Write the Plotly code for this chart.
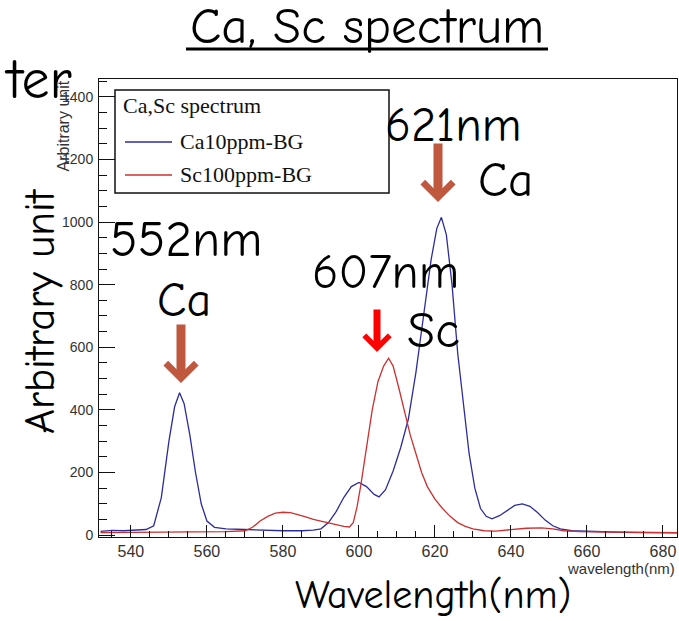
import plotly.graph_objects as go

# Ca 10 ppm spectrum, background subtracted (wavelength nm, intensity)
ca_wl = [532, 535, 538, 541, 544, 546, 548, 550, 551.5, 552.8, 554, 555.5, 557, 558.5, 560,
         562, 565, 570, 575, 580, 585, 588, 590, 592, 594, 596, 598, 600, 602, 604, 605.3,
         607, 609, 611, 613, 615, 617, 619, 620.5, 621.7, 623, 624.5, 626, 627.5, 629, 630.5,
         632, 633.5, 635, 637, 639, 641, 643, 645, 647, 649, 651, 653, 656, 660, 665, 670,
         675, 680, 684]
ca_int = [12, 15, 14, 16, 18, 30, 120, 300, 410, 455, 420, 320, 200, 100, 45,
          25, 20, 18, 15, 14, 14, 16, 20, 40, 75, 120, 155, 168, 155, 130, 122,
          145, 205, 280, 370, 520, 700, 880, 980, 1015, 960, 800, 580, 410, 260, 150,
          85, 60, 52, 62, 80, 95, 100, 92, 72, 48, 30, 20, 14, 12, 10, 9,
          8, 8, 7]

# Sc 100 ppm spectrum, background subtracted
sc_wl = [532, 540, 550, 560, 565, 570, 572, 574, 576, 578, 580, 582, 584, 586, 588, 590,
         592, 594, 596, 597.5, 598.5, 599.5, 600.5, 602, 603.5, 605, 606.5, 607.8, 609,
         610.5, 612, 613.5, 615, 616.5, 618, 620, 622, 624, 626, 628, 630, 633, 636, 640,
         644, 648, 651, 654, 658, 665, 675, 684]
sc_int = [8, 9, 10, 10, 11, 14, 25, 45, 60, 70, 73, 72, 66, 58, 50, 44,
          38, 32, 28, 26, 40, 90, 160, 280, 400, 490, 540, 565, 540,
          470, 390, 320, 260, 200, 155, 115, 85, 60, 40, 28, 20, 14, 13, 18,
          22, 23, 20, 14, 11, 10, 9, 8]

x_ticks = [540, 560, 580, 600, 620, 640, 660, 680]
y_ticks = [0, 200, 400, 600, 800, 1000, 1200, 1400]

W, H = 679, 621
L, R, T, B = 99, 2, 79, 84
PW, PH = W - L - R, H - T - B

def px(xp):
    return (xp - L) / PW

def py(yp):
    return (H - B - yp) / PH

BLUE = "#2c2c9c"
RED = "#cc3030"
BROWN = "#c0573f"
HAND = "Comic Sans MS, Comic Neue, DejaVu Sans"
SERIF = "Liberation Serif, Times New Roman, serif"
SANS = "Liberation Sans, Arial, sans-serif"

fig = go.Figure()
fig.add_trace(go.Scatter(x=ca_wl, y=ca_int, mode="lines", name="Ca10ppm-BG",
                         line=dict(color=BLUE, width=1.3), showlegend=False))
fig.add_trace(go.Scatter(x=sc_wl, y=sc_int, mode="lines", name="Sc100ppm-BG",
                         line=dict(color=RED, width=1.3), showlegend=False))

fig.update_xaxes(range=[531.6, 683.7], tickvals=x_ticks, ticktext=[str(v) for v in x_ticks],
                 ticks="inside", ticklen=12, tickwidth=1, tickcolor="#111",
                 showline=True, linecolor="#111", linewidth=1, mirror=True,
                 showgrid=False, zeroline=False,
                 tickfont=dict(family=SANS, size=16, color="#333"),
                 minor=dict(dtick=5, tick0=540, ticks="inside", ticklen=6, tickcolor="#111"))
fig.update_yaxes(range=[-6, 1457], tickvals=y_ticks, ticktext=[str(v) for v in y_ticks],
                 ticks="inside", ticklen=16, tickwidth=1, tickcolor="#111",
                 showline=True, linecolor="#111", linewidth=1, mirror=True,
                 showgrid=False, zeroline=False, ticklabelstandoff=2,
                 tickfont=dict(family="Liberation Sans Narrow, " + SANS, size=14, color="#333"),
                 minor=dict(dtick=50, tick0=0, ticks="inside", ticklen=8, tickcolor="#111"))

shapes = []
annotations = []

# legend box with sample lines
shapes.append(dict(type="rect", xref="paper", yref="paper",
                   x0=px(115), x1=px(389), y0=py(193), y1=py(90),
                   line=dict(color="#111", width=1.5), fillcolor="white", layer="above"))
for yy, col in [(142, BLUE), (175, RED)]:
    shapes.append(dict(type="line", xref="paper", yref="paper",
                       x0=px(125), x1=px(172), y0=py(yy), y1=py(yy),
                       line=dict(color=col, width=1.3), layer="above"))
annotations.append(dict(text="Ca,Sc spectrum", xref="paper", yref="paper", x=px(121), y=py(106),
                        xanchor="left", yanchor="middle", showarrow=False,
                        font=dict(family=SERIF, size=22, color="#111")))
annotations.append(dict(text="Ca10ppm-BG", xref="paper", yref="paper", x=px(178), y=py(141),
                        xanchor="left", yanchor="middle", showarrow=False,
                        font=dict(family=SERIF, size=22, color="#111")))
annotations.append(dict(text="Sc100ppm-BG", xref="paper", yref="paper", x=px(178), y=py(174),
                        xanchor="left", yanchor="middle", showarrow=False,
                        font=dict(family=SERIF, size=22, color="#111")))

# small axis titles of the inner plot
annotations.append(dict(text="Arbitrary unit", xref="paper", yref="paper", x=px(63), y=py(79),
                        xanchor="center", yanchor="top", textangle=-90, showarrow=False,
                        font=dict(family=SANS, size=16, color="#333")))
annotations.append(dict(text="wavelength(nm)", xref="paper", yref="paper", x=px(677), y=py(568),
                        xanchor="right", yanchor="middle", showarrow=False,
                        font=dict(family=SANS, size=15, color="#333")))

# slide title with underline
annotations.append(dict(text="Ca, Sc spectrum", xref="paper", yref="paper", x=px(367), y=py(27),
                        xanchor="center", yanchor="middle", showarrow=False,
                        font=dict(family=HAND, size=51, color="black")))
shapes.append(dict(type="line", xref="paper", yref="paper", x0=px(186), x1=px(548),
                   y0=py(49), y1=py(49), line=dict(color="black", width=3)))

# fragment of neighbouring slide text
annotations.append(dict(text="ter", xref="paper", yref="paper", x=px(74), y=py(80),
                        xanchor="right", yanchor="middle", showarrow=False,
                        font=dict(family=HAND, size=56, color="black")))

# big axis labels
annotations.append(dict(text="Arbitrary unit", xref="paper", yref="paper", x=px(40), y=py(311),
                        xanchor="center", yanchor="middle", textangle=-90, showarrow=False,
                        font=dict(family=HAND, size=43, color="black")))
annotations.append(dict(text="Wavelength(nm)", xref="paper", yref="paper", x=px(433), y=py(595),
                        xanchor="center", yanchor="middle", showarrow=False,
                        font=dict(family=HAND, size=40, color="black")))

# peak labels
for txt, cx, cy, size in [("552nm", 186, 239, 51), ("Ca", 184, 300, 48),
                          ("607nm", 385, 272, 49), ("Sc", 433, 330, 51),
                          ("621nm", 453, 126, 48), ("Ca", 505, 180, 49)]:
    annotations.append(dict(text=txt, xref="paper", yref="paper", x=px(cx), y=py(cy),
                            xanchor="center", yanchor="middle", showarrow=False,
                            font=dict(family=HAND, size=size, color="black")))

# arrows pointing at the peaks
for tipx, tipy, tail, col, w, s in [(181, 383, 323, BROWN, 9, 0.65),
                                    (438, 202, 142, BROWN, 9, 0.65),
                                    (377, 352, 308, "#ff0000", 7, 0.7)]:
    annotations.append(dict(text="", xref="paper", yref="paper", x=px(tipx), y=py(tipy),
                            axref="pixel", ayref="pixel", ax=0, ay=-(tipy - tail),
                            showarrow=True, arrowhead=4, arrowsize=s, arrowwidth=w,
                            arrowcolor=col))

fig.update_layout(width=W, height=H, autosize=False,
                  margin=dict(l=L, r=R, t=T, b=B, pad=0),
                  paper_bgcolor="white", plot_bgcolor="white",
                  shapes=shapes, annotations=annotations, showlegend=False)

fig.write_html("out.html")
